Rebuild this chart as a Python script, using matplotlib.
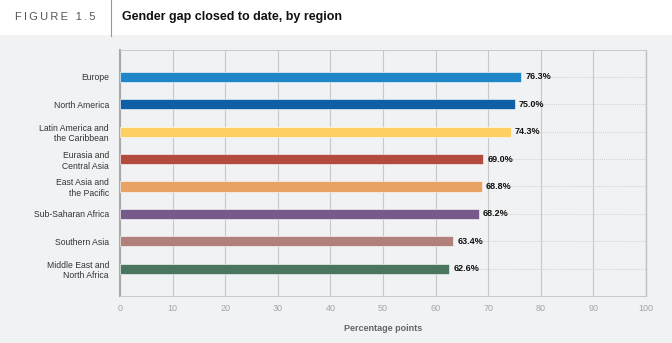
import matplotlib.pyplot as plt

regions = ["Europe", "North America", "Latin America and\nthe Caribbean",
           "Eurasia and\nCentral Asia", "East Asia and\nthe Pacific",
           "Sub-Saharan Africa", "Southern Asia", "Middle East and\nNorth Africa"]
values = [76.3, 75.0, 74.3, 69.0, 68.8, 68.2, 63.4, 62.6]
colors = ["#1f87c8", "#0f5fa6", "#fecf62", "#b04b3d", "#e8a265",
          "#765a8a", "#b0807a", "#4a7660"]
ticks = list(range(0, 101, 10))

plt.rcParams["font.family"] = ["Liberation Sans", "DejaVu Sans"]
bg = "#f1f2f4"

fig = plt.figure(figsize=(6.72, 3.43), dpi=100)
fig.patch.set_facecolor(bg)
# white header band
fig.patches.append(plt.Rectangle((0, 1 - 35 / 343), 1, 35 / 343, transform=fig.transFigure,
                                 facecolor="white", edgecolor="none", zorder=0))
fig.add_artist(plt.Line2D([111 / 672, 111 / 672], [1 - 36 / 343, 1], color="#999999", lw=0.8))
fig.text(15 / 672, 1 - 17 / 343, "\u2009".join("FIGURE 1.5"), fontsize=8, color="#555555", va="center")
fig.text(122 / 672, 1 - 17 / 343, "Gender gap closed to date, by region", fontsize=9,
         fontweight="bold", color="#111111", va="center")

ax = fig.add_axes([120 / 672, 1 - 296 / 343, 526 / 672, 246.5 / 343])
ax.set_facecolor(bg)
y = list(range(len(regions)))
ax.barh(y, values, height=0.37, color=colors, edgecolor="white", linewidth=0.4, zorder=3)
ax.set_xlim(0, 100)
ax.set_ylim(len(regions), -1)

for yi, v in zip(y, values):
    ax.text(v + 0.8, yi, f"{v:.1f}%", va="center", ha="left", fontsize=6.5,
            fontweight="bold", color="#111111", zorder=4)
    ax.plot([v + 5.5, 100], [yi, yi], ls=(0, (1, 1.5)), lw=0.6, color="#c4c4c4", zorder=2)

ax.set_xticks(ticks)
ax.set_xticklabels([str(t) for t in ticks], fontsize=6.5, color="#a5a5a5")
ax.tick_params(axis="x", length=0, pad=6)
ax.set_yticks(y)
ax.set_yticklabels(regions, fontsize=6.2, color="#333333", linespacing=1.25)
ax.tick_params(axis="y", length=0, pad=8)
ax.grid(axis="x", color="#c8c8c8", lw=0.8, zorder=1)

for s in ["top", "bottom"]:
    ax.spines[s].set_color("#c8c8c8")
    ax.spines[s].set_linestyle((0, (1, 1)))
    ax.spines[s].set_linewidth(0.7)
ax.spines["left"].set_color("#a8a8a8")
ax.spines["left"].set_linewidth(1.5)
ax.spines["right"].set_color("#c0c0c0")
ax.spines["right"].set_linewidth(1.0)

ax.set_xlabel("Percentage points", fontsize=6.5, fontweight="bold", color="#666666", labelpad=8)

fig.savefig("out.png", dpi=100, facecolor=bg)
